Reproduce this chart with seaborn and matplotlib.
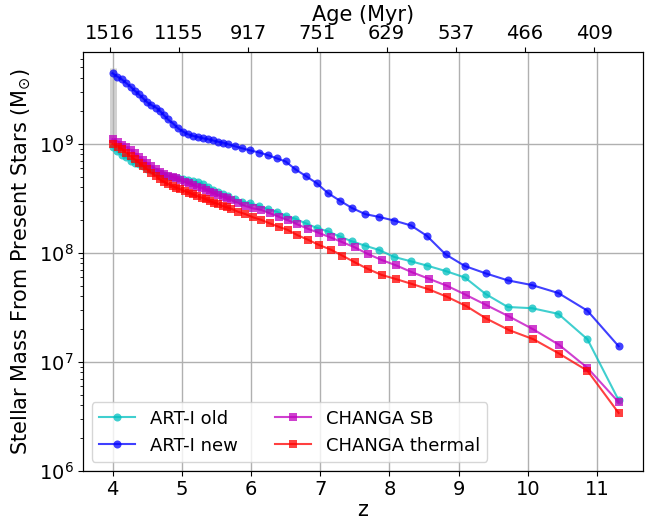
import numpy as np
import pandas as pd
import matplotlib
matplotlib.use("Agg")
import matplotlib.pyplot as plt
import seaborn as sns

# Snapshot redshifts and stellar masses (M_sun) for each run
z_art = [4.00, 4.07, 4.13, 4.19, 4.26, 4.32, 4.38, 4.44, 4.50, 4.56, 4.63, 4.68,
         4.74, 4.80, 4.88, 4.95, 5.02, 5.09, 5.16, 5.24, 5.31, 5.38, 5.45, 5.53,
         5.60, 5.67, 5.77, 5.87, 5.99, 6.12, 6.24, 6.37, 6.50, 6.64, 6.79, 6.95,
         7.11, 7.28, 7.46, 7.65, 7.85, 8.07, 8.31, 8.54, 8.81, 9.09, 9.39, 9.71,
         10.06, 10.44, 10.86, 11.31]

art_new = [4.43e9, 4.12e9, 3.90e9, 3.63e9, 3.34e9, 3.06e9, 2.84e9, 2.61e9, 2.40e9,
           2.26e9, 2.14e9, 2.01e9, 1.83e9, 1.67e9, 1.52e9, 1.38e9, 1.29e9, 1.22e9,
           1.18e9, 1.15e9, 1.12e9, 1.10e9, 1.07e9, 1.04e9, 1.02e9, 9.88e8, 9.47e8,
           9.08e8, 8.67e8, 8.30e8, 7.87e8, 7.35e8, 6.87e8, 5.83e8, 5.06e8, 4.34e8,
           3.53e8, 3.01e8, 2.57e8, 2.26e8, 2.13e8, 1.97e8, 1.78e8, 1.43e8, 9.67e7,
           7.55e7, 6.47e7, 5.58e7, 5.05e7, 4.27e7, 2.94e7, 1.39e7]

art_old = [9.27e8, 8.48e8, 7.87e8, 7.47e8, 7.01e8, 6.72e8, 6.45e8, 6.18e8, 5.92e8,
           5.70e8, 5.50e8, 5.33e8, 5.16e8, 5.02e8, 4.90e8, 4.80e8, 4.71e8, 4.61e8,
           4.50e8, 4.41e8, 4.23e8, 4.01e8, 3.76e8, 3.57e8, 3.42e8, 3.28e8, 3.11e8,
           2.94e8, 2.84e8, 2.68e8, 2.52e8, 2.38e8, 2.19e8, 2.05e8, 1.86e8, 1.69e8,
           1.57e8, 1.41e8, 1.27e8, 1.16e8, 1.06e8, 9.14e7, 8.35e7, 7.63e7, 6.80e7,
           5.93e7, 4.18e7, 3.18e7, 3.10e7, 2.75e7, 1.61e7, 4.46e6]

z_changa = [4.00, 4.08, 4.14, 4.20, 4.26, 4.32, 4.38, 4.44, 4.50, 4.56, 4.63, 4.68,
            4.74, 4.80, 4.87, 4.92, 4.98, 5.04, 5.11, 5.16, 5.22, 5.29, 5.35, 5.41,
            5.46, 5.53, 5.59, 5.65, 5.71, 5.81, 5.92, 6.03, 6.15, 6.27, 6.40, 6.53,
            6.67, 6.83, 6.98, 7.15, 7.32, 7.50, 7.69, 7.89, 8.10, 8.33, 8.57, 8.83,
            9.11, 9.40, 9.73, 10.08, 10.45, 10.86, 11.31]

changa_sb = [1.10e9, 1.04e9, 9.73e8, 9.27e8, 8.75e8, 8.16e8, 7.60e8, 7.09e8, 6.61e8,
             6.24e8, 5.82e8, 5.54e8, 5.28e8, 5.06e8, 4.98e8, 4.82e8, 4.65e8, 4.48e8,
             4.34e8, 4.18e8, 4.04e8, 3.90e8, 3.76e8, 3.63e8, 3.51e8, 3.38e8, 3.27e8,
             3.16e8, 3.05e8, 2.88e8, 2.68e8, 2.55e8, 2.47e8, 2.30e8, 2.14e8, 1.99e8,
             1.82e8, 1.65e8, 1.52e8, 1.38e8, 1.25e8, 1.12e8, 9.73e7, 8.57e7, 7.64e7,
             6.61e7, 5.77e7, 4.98e7, 4.09e7, 3.31e7, 2.60e7, 1.98e7, 1.43e7, 8.80e6,
             4.27e6]

changa_thermal = [9.94e8, 9.38e8, 8.89e8, 8.27e8, 7.71e8, 7.19e8, 6.70e8, 6.24e8,
                  5.82e8, 5.42e8, 5.06e8, 4.71e8, 4.48e8, 4.27e8, 4.09e8, 3.95e8,
                  3.82e8, 3.68e8, 3.55e8, 3.43e8, 3.31e8, 3.20e8, 3.09e8, 2.98e8,
                  2.88e8, 2.80e8, 2.68e8, 2.61e8, 2.54e8, 2.38e8, 2.26e8, 2.11e8,
                  2.00e8, 1.86e8, 1.73e8, 1.62e8, 1.45e8, 1.31e8, 1.18e8, 1.07e8,
                  9.40e7, 8.17e7, 7.09e7, 6.25e7, 5.72e7, 5.16e7, 4.61e7, 3.95e7,
                  3.24e7, 2.49e7, 1.95e7, 1.61e7, 1.19e7, 8.28e6, 3.40e6]

# Spread of the final masses at z = 4
spread_z = [4.0, 4.0]
spread_mass = [9.3e8, 4.9e9]

# Top axis: cosmic age (Myr) at integer redshifts
age_z = [4, 5, 6, 7, 8, 9, 10, 11]
age_labels = ["1516", "1155", "917", "751", "629", "537", "466", "409"]

plt.rcParams["font.family"] = ["DejaVu Sans"]
plt.rcParams["xtick.direction"] = "out"
plt.rcParams["ytick.direction"] = "out"

fig = plt.figure(figsize=(6.62, 5.22), dpi=100)
ax = fig.add_axes([0.125, 0.098, 0.846, 0.802])

ax.plot(spread_z, spread_mass, color="0.7", alpha=0.6, lw=5,
        solid_capstyle="butt", zorder=2.5)

series = [
    ("ART-I old", z_art, art_old, "c", "o"),
    ("ART-I new", z_art, art_new, "b", "o"),
    ("CHANGA SB", z_changa, changa_sb, "m", "s"),
    ("CHANGA thermal", z_changa, changa_thermal, "r", "s"),
]
for label, zz, mass, color, marker in series:
    df = pd.DataFrame({"z": zz, "mass": mass})
    sns.lineplot(data=df, x="z", y="mass", ax=ax, sort=False, color=color,
                 marker=marker, markersize=5.8, markeredgewidth=0, alpha=0.75,
                 lw=1.5, label=label, zorder=3)

ax.set_yscale("log")
ax.set_xlim(3.57, 11.66)
ax.set_ylim(1e6, 6.9e9)
ax.grid(True, which="major", color="#b0b0b0", lw=1.0)
ax.set_axisbelow(True)
ax.set_xticks([4, 5, 6, 7, 8, 9, 10, 11])
ax.tick_params(axis="both", which="major", labelsize=14, length=3.5, pad=3,
               colors="black")
ax.set_xlabel("z", fontsize=15, labelpad=1)
ax.set_ylabel(r"Stellar Mass From Present Stars (M$_{\odot}$)", fontsize=15)
for s in ax.spines.values():
    s.set_color("black")

ax.legend(loc="lower left", ncol=2, fontsize=13, frameon=True,
          handlelength=2.0, columnspacing=2.1)

ax2 = ax.twiny()
ax2.set_xlim(ax.get_xlim())
ax2.set_xticks([v - 0.04 for v in age_z])
ax2.set_xticklabels(age_labels)
ax2.tick_params(axis="x", labelsize=14, length=3.5, pad=3, colors="black")
ax2.set_xlabel("Age (Myr)", fontsize=15, labelpad=2)
ax2.grid(False)

fig.savefig("out.png", dpi=100)
